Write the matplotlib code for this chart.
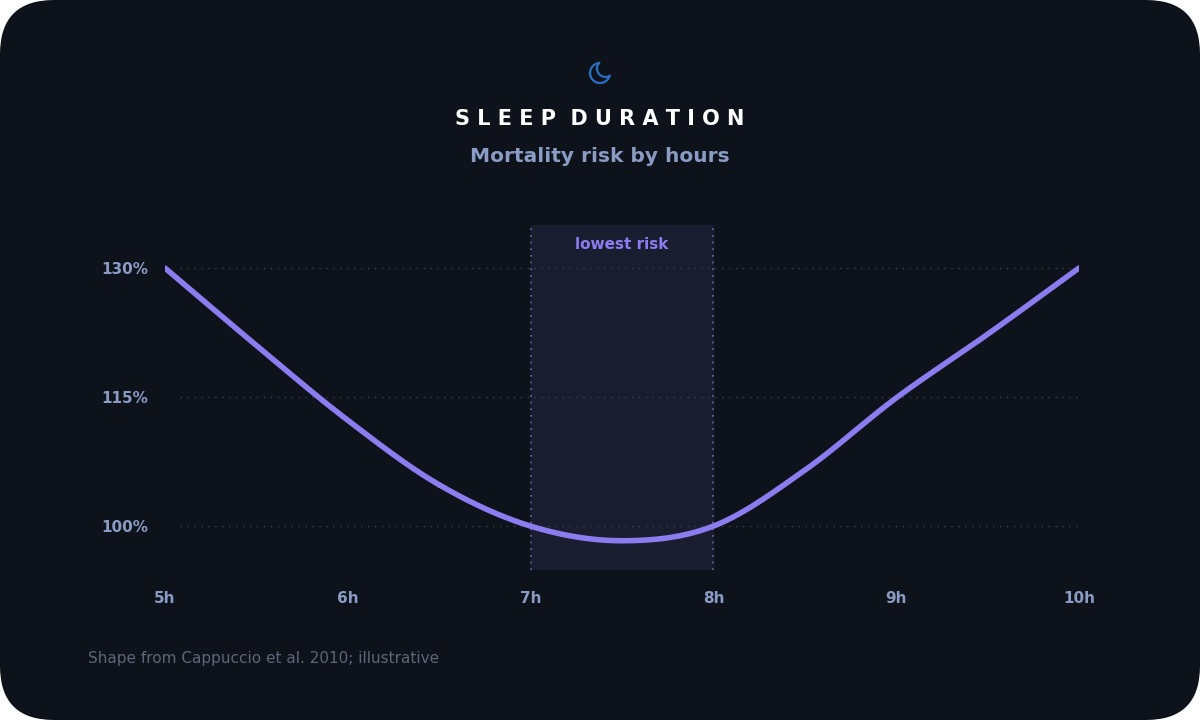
import numpy as np
import matplotlib
matplotlib.use("Agg")
import matplotlib.pyplot as plt
from matplotlib.patches import FancyBboxPatch

hours = [5, 5.5, 6, 6.5, 7, 7.5, 8, 8.5, 9, 9.5, 10]
risk = [130, 121, 112.3, 104.8, 100, 98.3, 100, 106.5, 114.9, 122.3, 130]
xticks = [5, 6, 7, 8, 9, 10]
xlabels = ["5h", "6h", "7h", "8h", "9h", "10h"]
yticks = [100, 115, 130]
ylabels = ["100%", "115%", "130%"]
band = (7, 8)

BG = "#0e121b"
LINE = "#8b7cf0"
MUTED = "#8a9bc4"

fig = plt.figure(figsize=(12, 7.2), dpi=100)
fig.patch.set_facecolor("white")
fig.patches.append(FancyBboxPatch((0, 0), 1, 1, boxstyle="round,pad=0,rounding_size=0.045",
                                  transform=fig.transFigure, fc=BG, ec="none",
                                  mutation_aspect=1.667, zorder=-10))

ax = fig.add_axes([165/1200, 1-570/720, (1079-165)/1200, (570-225)/720])
ax.set_facecolor("none")
ax.set_xlim(5, 10)
ax.set_ylim(94.9, 135)

def catmull(xs, ys, n=40):
    P = np.column_stack([xs, ys]).astype(float)
    P = np.vstack([2*P[0]-P[1], P, 2*P[-1]-P[-2]])
    out = []
    for i in range(1, len(P)-2):
        p0, p1, p2, p3 = P[i-1], P[i], P[i+1], P[i+2]
        t = np.linspace(0, 1, n)[:, None]
        pts = 0.5*((2*p1) + (-p0+p2)*t + (2*p0-5*p1+4*p2-p3)*t**2 + (-p0+3*p1-3*p2+p3)*t**3)
        out.append(pts)
    return np.vstack(out)

c = catmull(hours, risk)
ax.axvspan(band[0], band[1], color="#1a1d30", zorder=0)
for b in band:
    ax.axvline(b, color="#6e6aa8", ls=(0, (1, 3)), lw=1.2, zorder=1)
for y in yticks:
    ax.plot([5.08, 10], [y, y], color="#3a4050", ls=(0, (1, 4)), lw=1, zorder=1)
ax.plot(c[:, 0], c[:, 1], color=LINE, lw=4, solid_capstyle="round", zorder=3)
ax.text(7.5, 133.6, "lowest risk", color=LINE, ha="center", va="top", fontsize=11,
        fontweight="bold")

ax.set_xticks(xticks)
ax.set_xticklabels(xlabels)
ax.set_yticks(yticks)
ax.set_yticklabels(ylabels)
ax.tick_params(length=0, colors=MUTED, labelsize=11)
ax.tick_params(axis="x", pad=15)
ax.tick_params(axis="y", pad=12)
for lab in ax.get_xticklabels() + ax.get_yticklabels():
    lab.set_fontweight("bold")
for s in ax.spines.values():
    s.set_visible(False)

# moon icon
mx = fig.add_axes([587/1200, 1-86/720, 26/1200, 26/720])
mx.set_xlim(-1.3, 1.3); mx.set_ylim(-1.3, 1.3); mx.axis("off"); mx.set_aspect("equal")
th = np.linspace(-np.pi, np.pi, 721)
ic = np.array([0.55, 0.45]); r2 = 0.85
ox, oy = np.cos(th), np.sin(th)
m1 = np.hypot(ox-ic[0], oy-ic[1]) > r2
ix, iy = ic[0]+r2*np.cos(th), ic[1]+r2*np.sin(th)
m2 = np.hypot(ix, iy) < 1
mx.plot(np.where(m1, ox, np.nan), np.where(m1, oy, np.nan), color="#2a6fc0", lw=1.6)
mx.plot(np.where(m2, ix, np.nan), np.where(m2, iy, np.nan), color="#2a6fc0", lw=1.6)

fig.text(0.5, 1-119/720, "S L E E P  D U R A T I O N", color="white", ha="center", va="center",
         fontsize=15, fontweight="bold")
fig.text(0.5, 1-157/720, "Mortality risk by hours", color=MUTED, ha="center", va="center",
         fontsize=14.5, fontweight="bold")
fig.text(88/1200, 1-658/720, "Shape from Cappuccio et al. 2010; illustrative", color="#5d6679",
         ha="left", va="center", fontsize=11)

fig.savefig("out.png", dpi=100, facecolor=fig.get_facecolor())
